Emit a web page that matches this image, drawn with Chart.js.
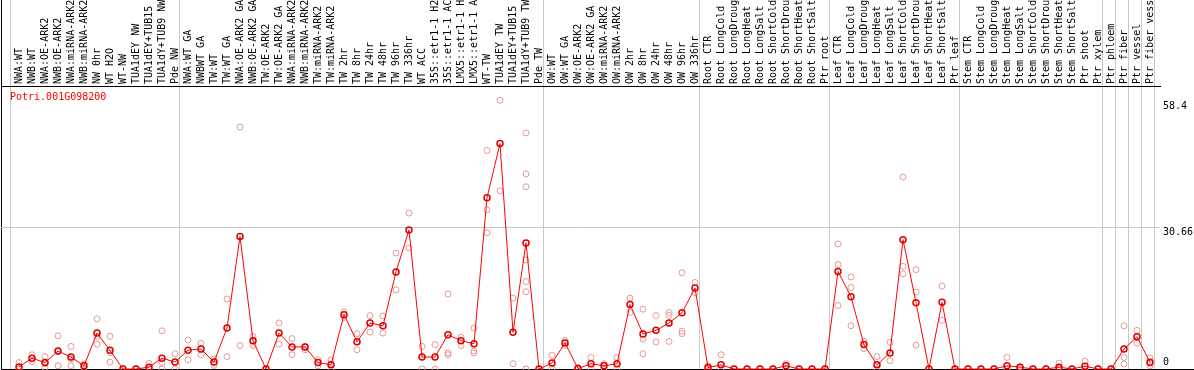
<!DOCTYPE html>
<html>
<head>
<meta charset="utf-8">
<script src="https://cdn.jsdelivr.net/npm/chart.js@4/dist/chart.umd.min.js"></script>
<style>
  html, body { margin: 0; padding: 0; background: #fff; }
  canvas { display: block; }
</style>
</head>
<body>
<canvas id="chart" width="1194" height="370"></canvas>
<script>
const geneId = "Potri.001G098200";

const categories = [
  "NWA:WT", "NWB:WT", "NWA:OE-ARK2", "NWB:OE-ARK2", "NWA:miRNA-ARK2", "NWB:miRNA-ARK2",
  "NW 0hr", "WT H2O", "WT-NW", "TUA1dEY NW", "TUA1dEY+TUB15 NW", "TUA1dY+TUB9 NW", "Pde NW",
  "NWA:WT GA", "NWBWT GA", "TW:WT", "TW:WT GA", "NWA:OE-ARK2 GA", "NWB:OE-ARK2 GA",
  "TW:OE-ARK2", "TW:OE-ARK2 GA", "NWA:miRNA-ARK2 GA", "NWB:miRNA-ARK2 GA", "TW:miRNA-ARK2",
  "TW:miRNA-ARK2 GA", "TW 2hr", "TW 8hr", "TW 24hr", "TW 48hr", "TW 96hr", "TW 336hr",
  "WT ACC", "35S::etr1-1 H2O", "35S::etr1-1 ACC", "LMX5::etr1-1 H2O", "LMX5::etr1-1 ACC",
  "WT-TW", "TUA1dEY TW", "TUA1dEY+TUB15 TW", "TUA1dY+TUB9 TW", "Pde TW",
  "OW:WT", "OW:WT GA", "OW:OE-ARK2", "OW:OE-ARK2 GA", "OW:miRNA-ARK2", "OW:miRNA-ARK2 GA",
  "OW 2hr", "OW 8hr", "OW 24hr", "OW 48hr", "OW 96hr", "OW 336hr",
  "Root CTR", "Root LongCold", "Root LongDrought", "Root LongHeat", "Root LongSalt",
  "Root ShortCold", "Root ShortDrought", "Root ShortHeat", "Root ShortSalt", "Ptr root",
  "Leaf CTR", "Leaf LongCold", "Leaf LongDrought", "Leaf LongHeat", "Leaf LongSalt",
  "Leaf ShortCold", "Leaf ShortDrought", "Leaf ShortHeat", "Leaf ShortSalt", "Ptr leaf",
  "Stem CTR", "Stem LongCold", "Stem LongDrought", "Stem LongHeat", "Stem LongSalt",
  "Stem ShortCold", "Stem ShortDrought", "Stem ShortHeat", "Stem ShortSalt", "Ptr shoot",
  "Ptr xylem", "Ptr phloem", "Ptr fiber", "Ptr vessel", "Ptr fiber vessel"
];

const means = [
  0.45, 2.35, 1.4, 3.9, 2.6, 0.7, 7.8, 4.05, 0, 0, 0.4, 2.35, 1.5,
  4.1, 4.35, 1.5, 8.9, 28.8, 6.15, 0, 7.8, 4.8, 4.8, 1.4, 0.9, 11.8, 5.9, 10.0, 9.4, 21.1, 30.2,
  2.6, 2.6, 7.45, 6.15, 5.5, 37.2, 49.0, 8.0, 27.4, 0,
  1.3, 5.65, 0.1, 1.15, 0.7, 1.15, 14.0, 7.6, 8.4, 10.0, 12.2, 17.6,
  0.3, 0.9, 0, 0, 0, 0, 0.7, 0, 0, 0,
  21.2, 15.7, 5.3, 0.9, 3.5, 28.1, 14.4, 0, 14.5, 0,
  0, 0, 0, 0.7, 0.4, 0, 0, 0.4, 0, 0.6,
  0, 0, 4.35, 7.0, 1.45
];

const replicates = [
  [1.4, 0], [3.1, 1.6], [2.7, 0.3, 1.2], [7.2, 0.7, 3.8], [4.9, 0.7, 2.2], [1.1, 0.3],
  [10.9, 5.4, 7.1], [7.1, 1.5, 3.5], [0, 0], [0, 0], [1.2, 0], [8.3, 1.4, 0], [3.3, 0],
  [6.3, 2.0], [5.6, 3.1], [2.2, 0.8], [15.2, 2.7], [52.6, 5.1], [7.1, 5.1], [0, 0],
  [10.0, 5.4], [6.6, 3.1], [4.9, 4.2], [2.0, 0.7], [2.0, 0], [12.4, 11.2], [7.7, 4.2],
  [11.6, 8.0], [11.5, 7.8], [25.2, 17.2], [33.9, 26.3],
  [4.9, 0], [5.3, 0], [16.3, 3.5, 3.1], [6.9, 5.1], [8.9, 3.9, 3.5], [47.5, 34.6, 29.6],
  [58.4, 38.7], [15.4, 1.15], [51.3, 42.4, 39.6, 23.7, 19.0, 16.8, 0], [0, 0],
  [3.0, 0], [6.2, 5.1], [0.3, 0], [2.5, 0], [1.15, 0.2], [2.5, 0], [15.4, 12.3],
  [13.0, 6.5, 3.3], [11.6, 5.9], [12.3, 11.7, 6.0], [20.9, 8.2, 7.7], [18.8, 16.6],
  [0.7, 0], [3.1, 0], [0, 0], [0, 0], [0, 0], [0, 0], [1.15, 0.2], [0, 0], [0, 0], [0, 0],
  [27.2, 22.7, 13.8], [20.0, 17.7, 9.4], [6.0, 4.4], [2.7, 0], [5.8, 1.8],
  [41.7, 22.3, 20.7], [21.6, 16.7, 5.2], [0, 0], [18.0, 10.6], [0, 0],
  [0, 0], [0, 0], [0, 0], [2.5, 0], [0.5, 0.3], [0, 0], [0, 0], [1.3, 0], [0, 0], [1.7, 0],
  [0, 0], [0, 0], [9.4, 2.5, 1.1], [8.4, 5.6], [2.4, 1.2, 0.7]
];

// first category index of each group, plus the end
const groupStarts = [0, 13, 41, 53, 63, 73, 84, 85, 86, 87, 88];

const yTickValues = [0, 30.66, 58.4];
const yTickLabels = ["0", "30.66", "58.4"];

// layout (pixels)
const CHART_LEFT = 1;
const CHART_RIGHT = 1160;
const TOP_AXIS_H = 86;
const Y_AXIS_W = 1194 - CHART_RIGHT;
const BOTTOM_PAD = 1;
const FIRST_X = 19;
const STEP = 13;
const Y_MAX = 61.5;
const PX_PER_UNIT = (370 - BOTTOM_PAD - TOP_AXIS_H) / Y_MAX;
const yLabelShiftPx = [-7, 4, 6];
const xLabelShift = 12 / STEP; // rotated top labels are drawn ~12px left of their tick
const GRID = "#c8c8c8";
const CLEAR = "rgba(0,0,0,0)";
const MONO = "'DejaVu Sans Mono', 'Liberation Mono', monospace";

const xMin = (CHART_LEFT - FIRST_X) / STEP;
const xMax = xMin + (CHART_RIGHT - CHART_LEFT) / STEP;

const meanPoints = means.map((v, i) => ({ x: i, y: v }));
const repPoints = [];
replicates.forEach((vals, i) => vals.forEach((v) => repPoints.push({ x: i, y: v })));

const geneLabel = {
  id: "geneLabel",
  afterDraw(chart) {
    const ctx = chart.ctx;
    ctx.save();
    ctx.fillStyle = "#ff0000";
    ctx.font = "10px " + MONO;
    ctx.textBaseline = "middle";
    ctx.textAlign = "left";
    ctx.fillText(geneId, 10, 97);
    ctx.restore();
  },
};

new Chart(document.getElementById("chart"), {
  type: "line",
  data: {
    datasets: [
      {
        label: "mean",
        data: meanPoints,
        borderColor: "#ff0000",
        borderWidth: 1,
        pointRadius: 3,
        pointBorderWidth: 1.5,
        pointBorderColor: "#e00000",
        pointBackgroundColor: CLEAR,
        tension: 0,
        clip: false,
        order: 0,
      },
      {
        label: "replicates",
        data: repPoints,
        showLine: false,
        pointRadius: 3,
        pointBorderWidth: 1,
        pointBorderColor: "#e89898",
        pointBackgroundColor: CLEAR,
        clip: false,
        order: 1,
      },
    ],
  },
  options: {
    responsive: false,
    animation: false,
    devicePixelRatio: 1,
    layout: {
      autoPadding: false,
      padding: { left: CHART_LEFT, right: 0, top: 0, bottom: BOTTOM_PAD },
    },
    plugins: { legend: { display: false }, tooltip: { enabled: false } },
    scales: {
      x: {
        type: "linear",
        position: "top",
        min: xMin,
        max: xMax,
        afterBuildTicks(scale) {
          const ticks = [{ value: xMin, edge: true }];
          groupStarts.forEach((g) => ticks.push({ value: g - 0.65, boundary: true }));
          categories.forEach((c, i) => ticks.push({ value: i + xLabelShift, cat: i }));
          scale.ticks = ticks;
        },
        afterFit(scale) {
          scale.height = TOP_AXIS_H;
          scale.paddingLeft = 0;
          scale.paddingRight = 0;
        },
        ticks: {
          autoSkip: false,
          minRotation: 90,
          maxRotation: 90,
          padding: -(TOP_AXIS_H - 2),
          color: "#000",
          font: { family: MONO, size: 10 },
          callback(value, index, ticks) {
            const t = ticks[index];
            return t.cat != null ? categories[t.cat] : "";
          },
        },
        grid: {
          drawTicks: true,
          tickLength: TOP_AXIS_H,
          lineWidth: 1,
          color(ctx) {
            const t = ctx.tick || {};
            if (t.edge) return "#000";
            if (t.boundary) return GRID;
            return CLEAR;
          },
        },
        border: { display: true, color: "#000", width: 1 },
      },
      y: {
        type: "linear",
        position: "right",
        min: 0,
        max: Y_MAX,
        afterBuildTicks(scale) {
          const ticks = [
            { value: 0, line: "#000", tick: "#000" },
            { value: 30.66, line: GRID },
          ];
          yTickValues.forEach((v, i) => {
            ticks.push({ value: v - yLabelShiftPx[i] / PX_PER_UNIT, text: yTickLabels[i] });
          });
          scale.ticks = ticks;
        },
        afterFit(scale) {
          scale.width = Y_AXIS_W;
          scale.paddingTop = 0;
          scale.paddingBottom = 0;
        },
        ticks: {
          autoSkip: false,
          padding: 3 - Y_AXIS_W,
          color: "#000",
          font: { family: MONO, size: 10 },
          callback(value, index, ticks) {
            return ticks[index].text || "";
          },
        },
        grid: {
          drawTicks: true,
          tickLength: Y_AXIS_W,
          color(ctx) {
            const t = ctx.tick || {};
            return t.line || CLEAR;
          },
          tickColor(ctx) {
            const t = ctx.tick || {};
            return t.tick || CLEAR;
          },
        },
        border: { display: false },
      },
    },
  },
  plugins: [geneLabel],
});
</script>
</body>
</html>
